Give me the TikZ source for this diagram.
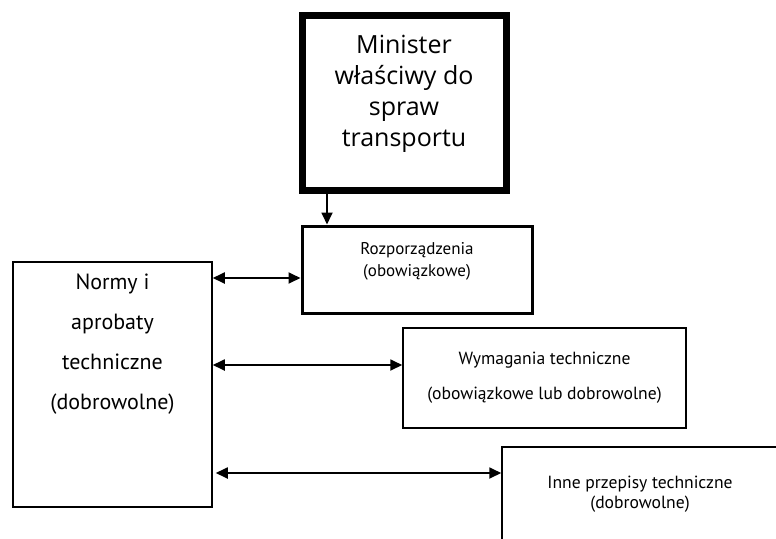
\documentclass[tikz,border=0pt]{standalone}
\usepackage{fontspec}
\setmainfont{PT Sans}
\newfontfamily\topfont{Open Sans}
\usetikzlibrary{arrows.meta}
\tikzset{
  box/.style={draw=black, rectangle, inner sep=0pt, fill=none},
  lbl/.style={anchor=north, align=center, inner sep=0pt},
  tip/.tip={Triangle[length=12pt,width=11pt]},
  dbl/.style={tip-tip, line width=1.8pt},
  sgl/.style={-tip, line width=1.8pt},
}
\begin{document}
\begin{tikzpicture}[x=1pt,y=-1pt]
\useasboundingbox (0,0) rectangle (776,538);
\clip (0,0) rectangle (776,538);
\fill[white] (0,0) rectangle (776,538);
% Minister box
\node[box, line width=7pt, minimum width=204pt, minimum height=174.5pt,
  label={[lbl, font=\topfont\fontsize{25}{31}\selectfont, yshift=-23pt]north:Minister\\właściwy do\\spraw\\transportu}]
  (min) at (404,102.75) {};
% Rozporzadzenia box
\node[box, line width=3pt, minimum width=230pt, minimum height=87pt,
  label={[lbl, font=\fontsize{17}{22}\selectfont, yshift=-17.5pt]north:Rozporządzenia\\(obowiązkowe)}]
  (rozp) at (417,269.5) {};
% Normy box
\node[box, line width=1.5pt, minimum width=199pt, minimum height=245pt,
  label={[lbl, font=\fontsize{22}{40}\selectfont, yshift=-12.5pt]north:Normy i\\aprobaty\\techniczne\\(dobrowolne)}]
  (norm) at (112.5,384.5) {};
% Wymagania box
\node[box, line width=1.5pt, minimum width=283pt, minimum height=100pt,
  align=center, font=\fontsize{17.6}{35}\selectfont]
  (wym) at (544.5,378) {Wymagania techniczne\\(obowiązkowe lub dobrowolne)};
% Inne box
\node[box, line width=1.5pt, minimum width=276pt, minimum height=94pt,
  align=center, font=\fontsize{17.6}{20}\selectfont]
  (inne) at (640,494) {Inne przepisy techniczne\\(dobrowolne)};
% connectors
\draw[sgl] (min.south -| 327,0) -- (rozp.north -| 327,0);
\draw[dbl] (norm.east |- 0,278) -- (rozp.west |- 0,278);
\draw[dbl] (norm.east |- 0,365) -- (wym.west |- 0,365);
\draw[dbl, shorten <=3pt] (norm.east |- 0,473) -- (inne.west |- 0,473);
\end{tikzpicture}
\end{document}
